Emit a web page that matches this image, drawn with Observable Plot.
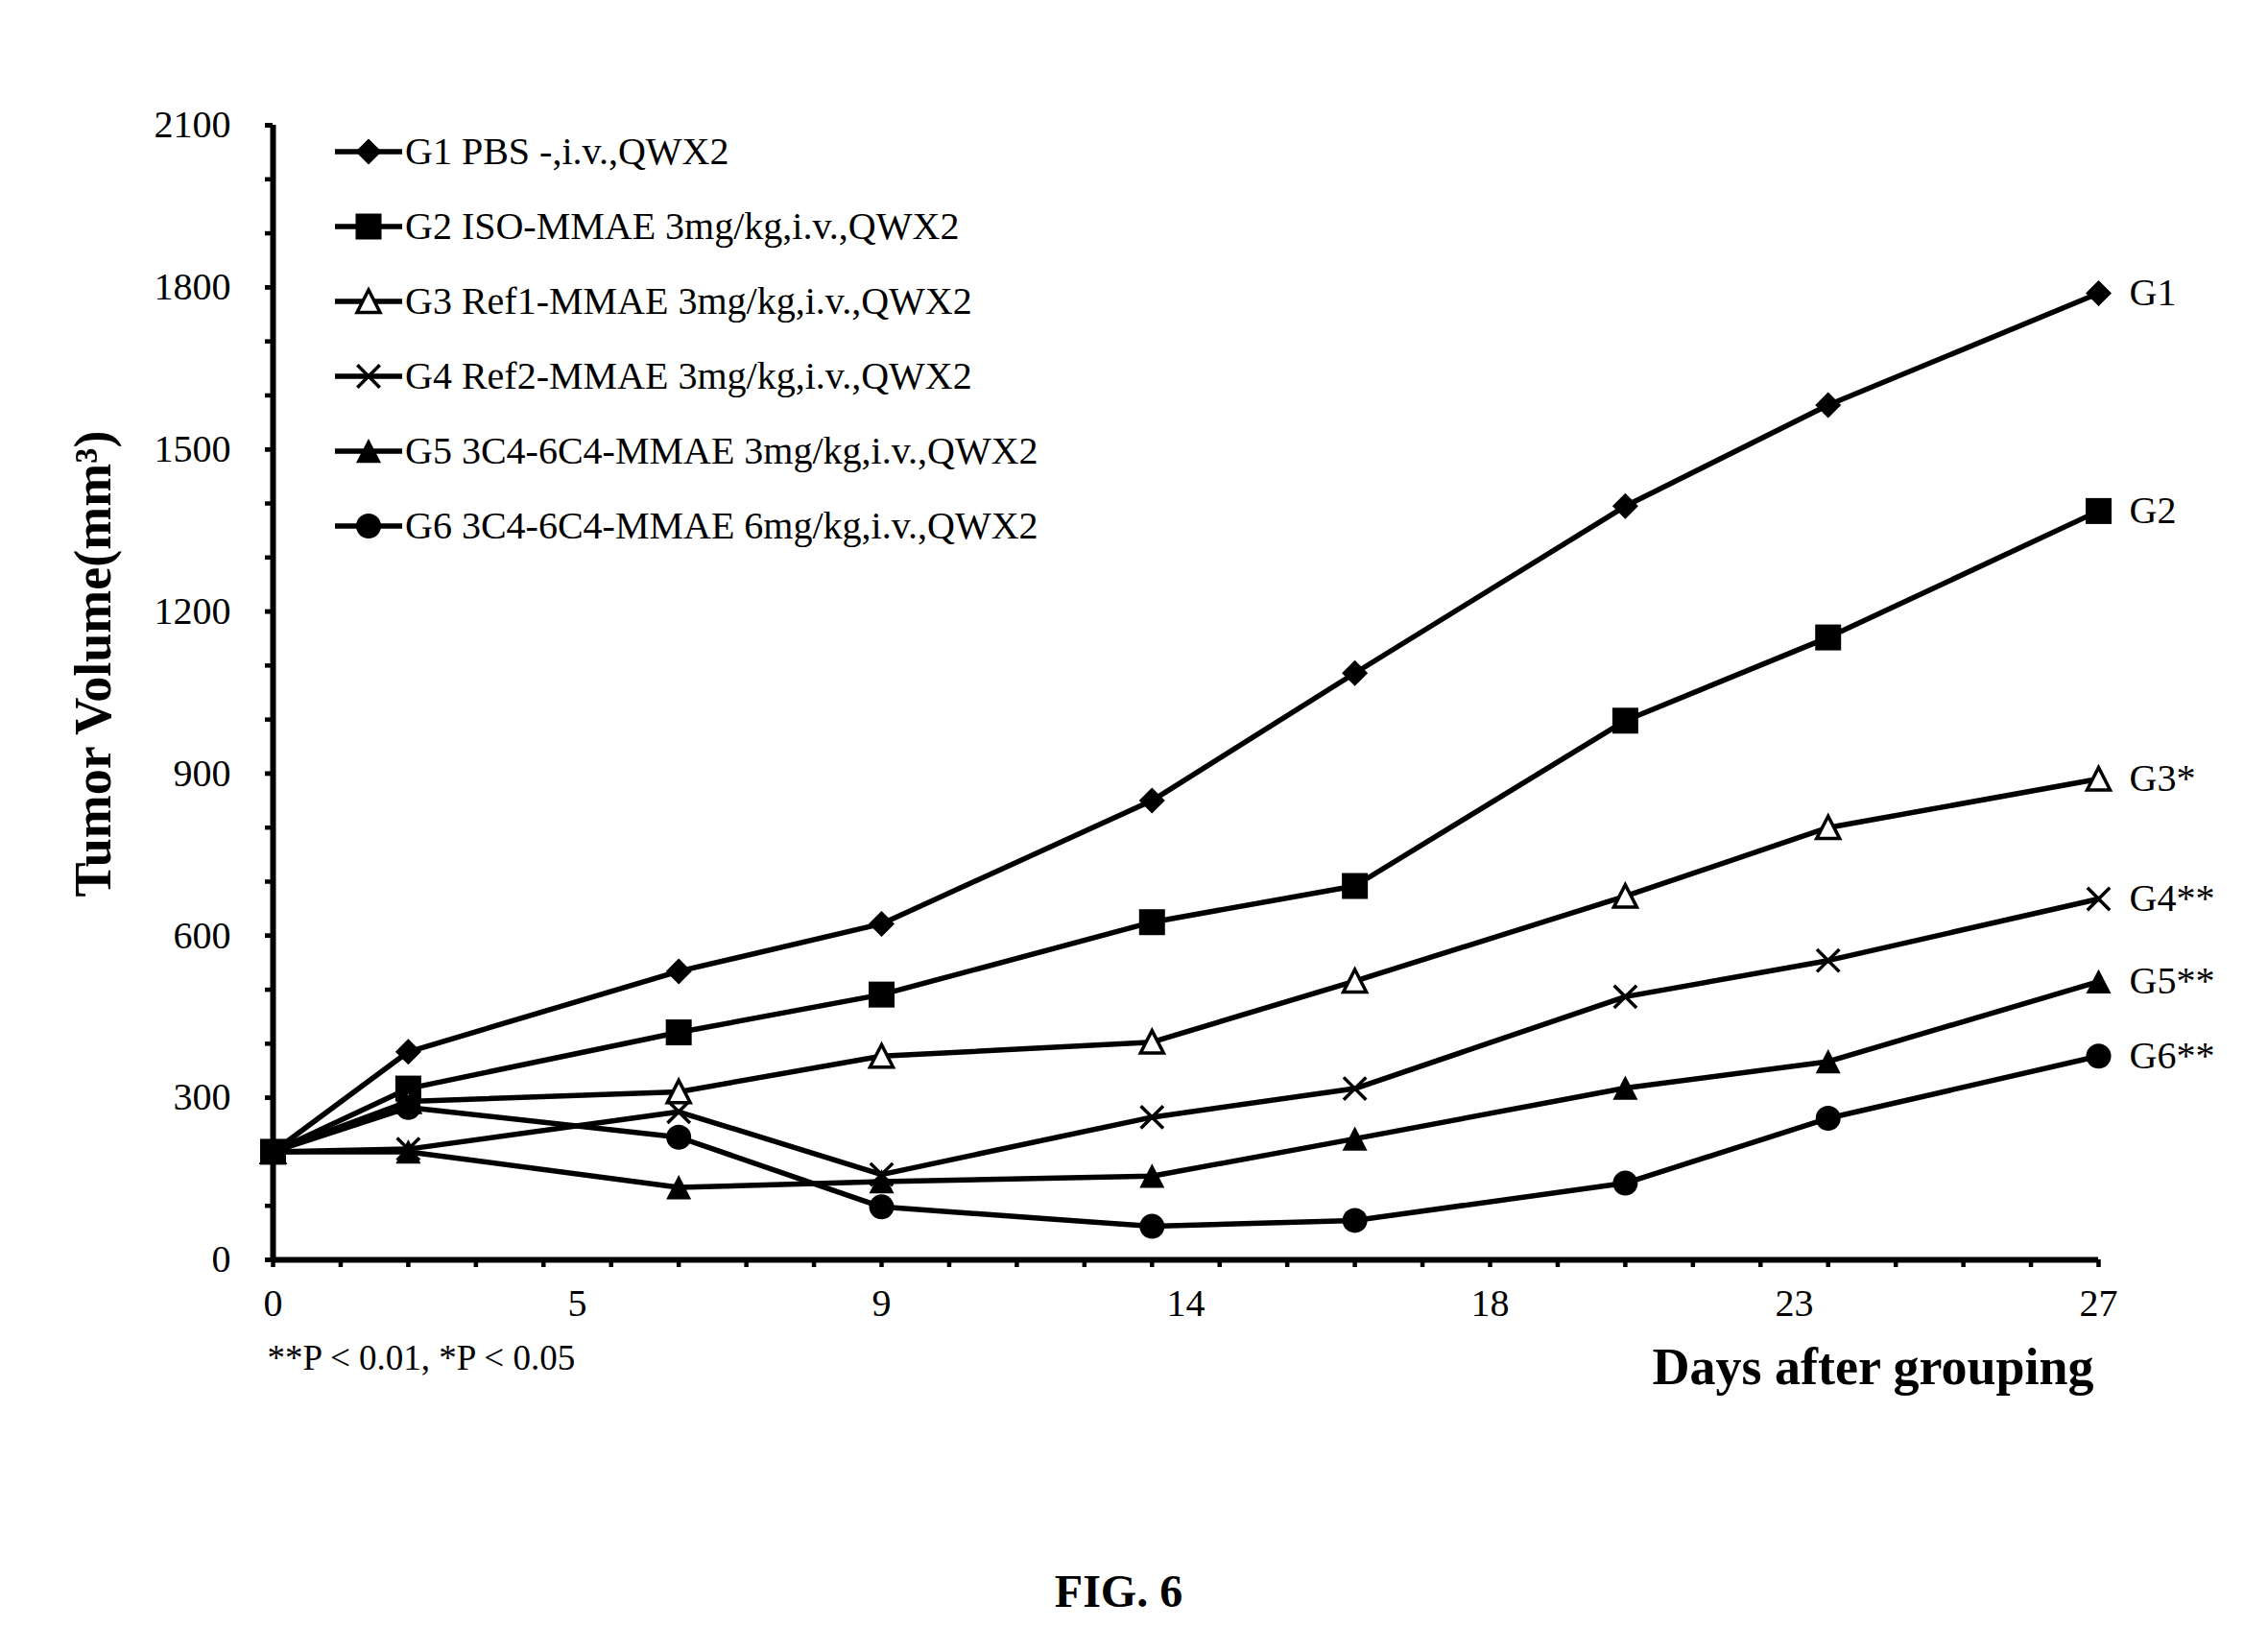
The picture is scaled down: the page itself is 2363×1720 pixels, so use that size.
<!DOCTYPE html>
<html>
<head>
<meta charset="utf-8">
<script src="https://cdn.jsdelivr.net/npm/d3@7"></script>
<script src="https://cdn.jsdelivr.net/npm/@observablehq/plot@0.6"></script>
<style>
  html, body { margin: 0; padding: 0; background: #fff; }
  #wrap { position: relative; width: 2363px; height: 1720px; }
  #legend { position: absolute; left: 0; top: 0; pointer-events: none; }
</style>
</head>
<body>
<div id="wrap"></div>
<script>
// Tumor volume (mm³) by day after grouping, one array per treatment group
const days = [0, 2, 6, 9, 13, 16, 20, 23, 27];
const g1 = [200, 385, 534, 622, 850, 1086, 1395, 1582, 1789];
const g2 = [200, 317, 421, 491, 625, 692, 998, 1152, 1386];
const g3 = [200, 293, 311, 377, 403, 516, 673, 800, 890];
const g4 = [200, 205, 274, 158, 264, 317, 487, 554, 668];
const g5 = [200, 200, 134, 145, 155, 224, 318, 367, 515];
const g6 = [200, 282, 227, 98, 62, 73, 142, 262, 377];

const groupKeys = ["G1", "G2", "G3", "G4", "G5", "G6"];
const legendNames = [
  "G1 PBS -,i.v.,QWX2",
  "G2 ISO-MMAE 3mg/kg,i.v.,QWX2",
  "G3 Ref1-MMAE 3mg/kg,i.v.,QWX2",
  "G4 Ref2-MMAE 3mg/kg,i.v.,QWX2",
  "G5 3C4-6C4-MMAE 3mg/kg,i.v.,QWX2",
  "G6 3C4-6C4-MMAE 6mg/kg,i.v.,QWX2"
];
const endLabels = ["G1", "G2", "G3*", "G4**", "G5**", "G6**"];

// Axis ticks: labels every 4.5 days (shown rounded), small ticks every day / 100 mm³
const xLabelTicks = [0, 4.5, 9, 13.5, 18, 22.5, 27];
const xMinorTicks = d3.range(0, 28, 1);
const yLabelTicks = d3.range(0, 2101, 300);
const yMinorTicks = d3.range(0, 2101, 100);

const FONT = '"Liberation Serif", "Times New Roman", Times, serif';

// Marker shapes; the size handed in by Plot is r²·π, so h is the half-width r
const half = size => Math.sqrt(size / Math.PI);
const diamond = {draw(c, s) { const h = half(s); c.moveTo(0, -h); c.lineTo(h, 0); c.lineTo(0, h); c.lineTo(-h, 0); c.closePath(); }};
const square = {draw(c, s) { const h = half(s); c.rect(-h, -h, 2 * h, 2 * h); }};
const triangle = {draw(c, s) { const h = half(s); c.moveTo(0, -h); c.lineTo(h, h * 0.95); c.lineTo(-h, h * 0.95); c.closePath(); }};
const cross = {draw(c, s) { const h = half(s) * 0.9; c.moveTo(-h, -h); c.lineTo(h, h); c.moveTo(-h, h); c.lineTo(h, -h); }};
const circle = {draw(c, s) { const h = half(s); c.moveTo(h, 0); c.arc(0, 0, h, 0, 2 * Math.PI); c.closePath(); }};

const markerStyles = [
  {symbol: diamond, r: 13.5, fill: "black", stroke: "none", strokeWidth: 0},
  {symbol: square, r: 13.5, fill: "black", stroke: "none", strokeWidth: 0},
  {symbol: triangle, r: 12, fill: "white", stroke: "black", strokeWidth: 3.5},
  {symbol: cross, r: 13, fill: "none", stroke: "black", strokeWidth: 3.5},
  {symbol: triangle, r: 13, fill: "black", stroke: "none", strokeWidth: 0},
  {symbol: circle, r: 13, fill: "black", stroke: "none", strokeWidth: 0}
];

const seriesValues = [g1, g2, g3, g4, g5, g6];
const rows = days.flatMap((day, i) =>
  groupKeys.map((group, k) => ({day, vol: seriesValues[k][i], group}))
);
const endLabelOf = Object.fromEntries(groupKeys.map((k, i) => [k, endLabels[i]]));

const chart = Plot.plot({
  width: 2363,
  height: 1720,
  marginLeft: 284,
  marginRight: 177,
  marginTop: 130,
  marginBottom: 408,
  style: {fontFamily: FONT, fontSize: "40px", color: "black", background: "white", overflow: "visible"},
  x: {domain: [0, 27]},
  y: {domain: [0, 2100]},
  marks: [
    // small ticks
    Plot.axisX(xMinorTicks, {tickSize: 8, strokeWidth: 4.5, fill: "none", tickFormat: () => "", label: null}),
    Plot.axisY(yMinorTicks, {tickSize: 8, strokeWidth: 4.5, fill: "none", tickFormat: () => "", label: null}),
    // tick labels
    Plot.axisX(xLabelTicks, {tickSize: 0, tickPadding: 30, tickFormat: d => String(Math.round(d)), label: null}),
    Plot.axisY(yLabelTicks, {tickSize: 8, strokeWidth: 4.5, tickPadding: 36, tickFormat: d => String(d), label: null}),
    // axis lines
    Plot.ruleX([0], {strokeWidth: 6, stroke: "black"}),
    Plot.ruleY([0], {strokeWidth: 6, stroke: "black"}),
    // series lines
    Plot.line(rows, {x: "day", y: "vol", z: "group", stroke: "black", strokeWidth: 5.5}),
    // series markers
    ...groupKeys.map((k, i) =>
      Plot.dot(rows.filter(d => d.group === k), {x: "day", y: "vol", ...markerStyles[i]})
    ),
    // series names at the line ends
    Plot.text(rows, Plot.selectLast({
      x: "day", y: "vol", z: "group",
      text: d => endLabelOf[d.group],
      dx: 32, textAnchor: "start", fontSize: 40
    })),
    // axis titles and notes
    Plot.text(["Tumor Volume(mm³)"], {
      frameAnchor: "left", rotate: -90, dx: -187, dy: -30,
      fontWeight: "bold", fontSize: 54, lineAnchor: "middle", textAnchor: "middle"
    }),
    Plot.text(["Days after grouping"], {
      frameAnchor: "bottom-right", dx: -5, dy: 129,
      fontWeight: "bold", fontSize: 54, lineAnchor: "bottom", textAnchor: "end"
    }),
    Plot.text(["**P < 0.01, *P < 0.05"], {
      frameAnchor: "bottom-left", dx: -6, dy: 114,
      fontSize: 37, lineAnchor: "bottom", textAnchor: "start"
    }),
    Plot.text(["FIG. 6"], {
      frameAnchor: "bottom", dx: -70, dy: 361,
      fontWeight: "bold", fontSize: 48, lineAnchor: "bottom", textAnchor: "middle"
    })
  ]
});

const wrap = document.getElementById("wrap");
wrap.appendChild(chart);

// Legend block in the upper-left of the plot area
const legendRowY = [158, 236, 314, 392, 470, 548];
const legend = d3.select(wrap).append("svg")
  .attr("id", "legend")
  .attr("width", 1200)
  .attr("height", 620)
  .style("font-family", FONT);

legendNames.forEach((name, i) => {
  const y = legendRowY[i];
  const m = markerStyles[i];
  const g = legend.append("g").attr("transform", `translate(0,${y})`);
  g.append("line").attr("x1", 349).attr("x2", 419).attr("y1", 0).attr("y2", 0)
    .attr("stroke", "black").attr("stroke-width", 5.5);
  g.append("path")
    .attr("transform", "translate(384,0)")
    .attr("d", d3.symbol(m.symbol, m.r * m.r * Math.PI)())
    .attr("fill", m.fill)
    .attr("stroke", m.stroke)
    .attr("stroke-width", m.strokeWidth);
  g.append("text").attr("x", 422).attr("y", 0).attr("dy", "0.33em")
    .attr("font-size", 40).attr("fill", "black").text(name);
});
</script>
</body>
</html>
